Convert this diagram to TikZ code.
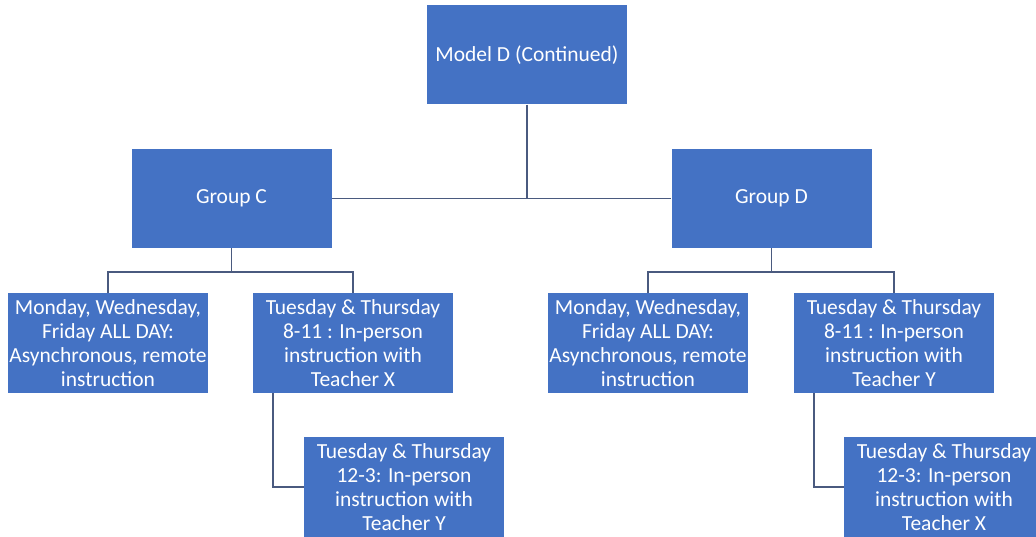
\documentclass[tikz,border=0pt]{standalone}
\usepackage{fontspec}
\setmainfont{Carlito}
\usetikzlibrary{positioning}
\definecolor{boxblue}{HTML}{4472C4}
\definecolor{linegray}{HTML}{4A5A7F}
\tikzset{
  centered/.style = { align=center, anchor=center },
       box/.style = { font=\fontsize{21.5}{24}\selectfont, text=white, fill=boxblue,
                      centered, inner sep=0pt, minimum width=200pt, minimum height=99pt },
      link/.style = { draw=linegray, line width=1.6pt },
}
\begin{document}
\begin{tikzpicture}[x=1pt,y=-1pt]
  \useasboundingbox (0,0) rectangle (1036,537);
  % top and groups
  \node [box] (model)  at (527,55)    {Model D (Continued)};
  \node [box] (groupC) at (231.5,198.5) {Group C};
  \node [box] (groupD) at (771.5,198.5) {Group D};
  % group C
  \node [box, minimum height=100pt] (cMWF)  at (108,343) {Monday, Wednesday,\\Friday ALL DAY:\\Asynchronous, remote\\instruction};
  \node [box, minimum height=100pt] (cTTam) at (353,343) {Tuesday \& Thursday\\8-11 : In-person\\instruction with\\Teacher X};
  \node [box, minimum height=100pt] (cTTpm) at (404,487) {Tuesday \& Thursday\\12-3: In-person\\instruction with\\Teacher Y};
  % group D
  \node [box, minimum height=100pt] (dMWF)  at (648,343) {Monday, Wednesday,\\Friday ALL DAY:\\Asynchronous, remote\\instruction};
  \node [box, minimum height=100pt] (dTTam) at (894,343) {Tuesday \& Thursday\\8-11 : In-person\\instruction with\\Teacher Y};
  \node [box, minimum height=100pt] (dTTpm) at (944,487) {Tuesday \& Thursday\\12-3: In-person\\instruction with\\Teacher X};

  \draw [link] (model.south) -- (model.south |- groupC.east);
  \draw [link] (groupC.east) -- (groupD.west);
  \foreach \g/\a/\b in {groupC/cMWF/cTTam, groupD/dMWF/dTTam} {
    \draw [link] (\g.south) -- ++(0,24) -| (\a.north);
    \draw [link] (\g.south) -- ++(0,24) -| (\b.north);
  }
  \foreach \a/\b in {cTTam/cTTpm, dTTam/dTTpm}
    \draw [link] ([xshift=20pt]\a.south west) |- (\b.west);
\end{tikzpicture}
\end{document}
